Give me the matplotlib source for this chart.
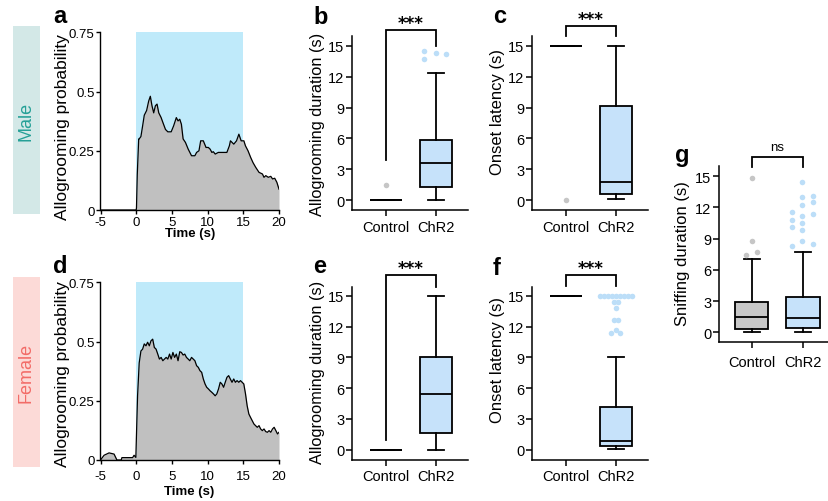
import matplotlib
matplotlib.use('Agg')
import matplotlib.pyplot as plt
from matplotlib.patches import Rectangle

plt.rcParams['font.family'] = ['Liberation Sans', 'DejaVu Sans']

# ---------------- data ----------------
male_t = [-5, 0.0, 0.04, 0.15, 0.35, 0.42, 0.66, 0.9, 1.13, 1.46, 1.75, 1.98, 2.21, 2.45, 2.69,
          2.92, 3.16, 3.49, 3.73, 4.1, 4.43, 4.9, 5.24, 5.62, 5.86, 6.1, 6.33, 6.57, 6.9, 7.28,
          7.75, 8.22, 8.46, 8.79, 9.03, 9.4, 9.78, 10.1, 10.35, 10.6, 10.8, 11.07, 11.5, 12.0,
          12.7, 13.05, 13.2, 13.67, 14.05, 14.38, 14.7, 15.08, 15.3, 15.66, 16.03, 16.36, 16.74,
          17.2, 17.68, 17.9, 18.15, 18.5, 18.85, 19.1, 19.4, 19.7, 20.0]
male_p = [0, 0, 0.01, 0.15, 0.30, 0.30, 0.31, 0.355, 0.40, 0.42, 0.46, 0.48, 0.44, 0.41, 0.44,
          0.447, 0.41, 0.39, 0.37, 0.34, 0.33, 0.33, 0.355, 0.39, 0.376, 0.383, 0.362, 0.30, 0.285, 0.257,
          0.229, 0.229, 0.243, 0.25, 0.292, 0.292, 0.264, 0.264, 0.257, 0.243, 0.246, 0.236, 0.243, 0.243,
          0.243, 0.271, 0.292, 0.278, 0.292, 0.32, 0.292, 0.292, 0.271, 0.25, 0.222, 0.20, 0.18,
          0.159, 0.152, 0.138, 0.145, 0.138, 0.142, 0.131, 0.134, 0.117, 0.088]

female_t = [-5, -4.5, -3.8, -3.1, -2.7, -2.1, -2.0, -0.5, -0.3, -0.05, 0.19, 0.42, 0.66, 0.9, 1.13,
            1.37, 1.6, 1.84, 2.07, 2.31, 2.54, 2.78, 3.02, 3.25, 3.49, 3.73, 3.96, 4.2, 4.43, 4.67,
            4.9, 5.14, 5.38, 5.62, 5.86, 6.1, 6.33, 6.57, 6.8, 7.04, 7.28, 7.51, 7.75, 7.99, 8.22,
            8.46, 8.7, 8.93, 9.17, 9.4, 9.64, 9.87, 10.11, 10.35, 10.58, 10.82, 11.06, 11.29, 11.53,
            11.77, 12.0, 12.24, 12.47, 12.71, 12.95, 13.18, 13.42, 13.66, 13.89, 14.13, 14.37, 14.6,
            14.84, 15.07, 15.31, 15.54, 15.78, 16.01, 16.25, 16.49, 16.72, 16.96, 17.2, 17.43, 17.67,
            17.9, 18.14, 18.38, 18.61, 18.85, 19.09, 19.32, 19.56, 19.79, 20.0]
female_p = [0, 0.02, 0.03, 0.025, 0.0, 0.0, 0.01, 0.01, 0.02, 0.011, 0.27, 0.41, 0.46, 0.468, 0.49,
            0.482, 0.497, 0.482, 0.503, 0.51, 0.475, 0.468, 0.447, 0.426, 0.433, 0.419, 0.426, 0.433, 0.426, 0.447,
            0.426, 0.454, 0.433, 0.447, 0.419, 0.457, 0.454, 0.443, 0.447, 0.433, 0.426, 0.419, 0.433, 0.426, 0.419,
            0.398, 0.391, 0.377, 0.37, 0.342, 0.321, 0.307, 0.30, 0.292, 0.286, 0.279, 0.271, 0.279, 0.30,
            0.328, 0.321, 0.307, 0.328, 0.349, 0.356, 0.342, 0.328, 0.342, 0.328, 0.335, 0.328, 0.335,
            0.328, 0.321, 0.279, 0.229, 0.194, 0.18, 0.166, 0.152, 0.145, 0.138, 0.145, 0.131, 0.124,
            0.131, 0.12, 0.117, 0.124, 0.117, 0.131, 0.138, 0.124, 0.11, 0.117]

stim_window = [0, 15]
groups = ['Control', 'ChR2']

# box statistics: whislo, q1, med, q3, whishi
b_control = [0, 0, 0, 0, 0]
b_chr2 = [0, 1.26, 3.59, 5.85, 12.35]
b_control_fliers = [1.5]
b_chr2_fliers = [14.45, 13.7, 14.3, 14.2]

c_control = [15, 15, 15, 15, 15]
c_chr2 = [0.12, 0.6, 1.74, 9.1, 15]
c_control_fliers = [0.0]

e_control = [0, 0, 0, 0, 0]
e_chr2 = [0, 1.63, 5.4, 9.0, 15]

f_control = [15, 15, 15, 15, 15]
f_chr2 = [0.05, 0.35, 0.85, 4.2, 9.05]
f_chr2_fliers = [15, 15, 15, 15, 15, 15, 15, 15, 15, 14.45, 14.45, 13.86, 12.66, 12.66,
                 11.36, 11.68, 11.36]

g_control = [0, 0.32, 1.44, 2.94, 7.05]
g_chr2 = [0, 0.38, 1.35, 3.37, 7.69]
g_control_fliers = [14.8, 8.75, 7.69, 7.43]
g_chr2_fliers = [14.48, 13.0, 13.08, 12.24, 12.56, 11.54, 11.35, 10.8, 11.15, 10.13, 10.48,
                 9.84, 8.78, 8.33, 8.52]

# jitter offsets for flier display (layout)
b_chr2_jit = [-0.23, -0.23, 0.0, 0.2]
f_chr2_jit = [-0.32, -0.24, -0.16, -0.08, 0.0, 0.08, 0.16, 0.24, 0.32, -0.04, 0.04, 0.0, -0.04, 0.04,
              -0.09, 0.0, 0.08]
g_control_jit = [0.0, 0.0, 0.11, -0.10]
g_chr2_jit = [-0.02, -0.02, 0.19, -0.02, 0.19, -0.22, 0.19, -0.22, -0.02, -0.22, -0.02,
              -0.02, -0.02, -0.22, 0.19]

# ---------------- style ----------------
W, H = 829, 502
fig = plt.figure(figsize=(W / 100, H / 100), dpi=100)

GREY_FILL = '#c0c0c0'
STIM = '#bfeafa'
BOX_BLUE = '#c6e2fa'
FLIER_BLUE = '#bcdef8'
FLIER_GREY = '#c6c6c6'
BOX_GREY = '#c8c8c8'
LW = 1.3


def add_ax(l, t, r, b):
    return fig.add_axes([l / W, 1 - b / H, (r - l) / W, (b - t) / H])


def ftext(px, py, s, **kw):
    return fig.text(px / W, 1 - py / H, s, **kw)


def trace_panel(ax, t, p):
    ax.axvspan(stim_window[0], stim_window[1], ymin=0, ymax=1, color=STIM, lw=0, zorder=0)
    ax.fill_between(t, p, 0, color=GREY_FILL, lw=0, zorder=1)
    ax.plot(t, p, color='black', lw=0.9, zorder=2)
    ax.set_xlim(-5, 20)
    ax.set_ylim(0, 0.75)
    ax.set_xticks([-5, 0, 5, 10, 15, 20])
    ax.set_xticklabels(['-5', '0', '5', '10', '15', '20'])
    ax.set_yticks([0, 0.25, 0.5, 0.75])
    ax.set_yticklabels(['0', '0.25', '0.5', '0.75'])
    for s in ['top', 'right']:
        ax.spines[s].set_visible(False)
    for s in ['left', 'bottom']:
        ax.spines[s].set_linewidth(1.0)
    ax.tick_params(axis='both', length=3, width=1.0, pad=1.2, labelsize=9.5)


def stats(v):
    return dict(whislo=v[0], q1=v[1], med=v[2], q3=v[3], whishi=v[4])


def box_panel(ax, ctrl, chr2, ctrl_face='none', xlim=(-0.68, 1.64), ylim=(-0.97, 15.9)):
    bp = ax.bxp([stats(ctrl), stats(chr2)], positions=[0, 1], widths=0.65, showfliers=False,
                patch_artist=True, capwidths=0.31,
                boxprops=dict(linewidth=LW, edgecolor='black'),
                medianprops=dict(color='black', linewidth=LW),
                whiskerprops=dict(color='black', linewidth=LW),
                capprops=dict(color='black', linewidth=LW))
    bp['boxes'][0].set_facecolor(ctrl_face)
    bp['boxes'][1].set_facecolor(BOX_BLUE)
    ax.set_xlim(*xlim)
    ax.set_ylim(*ylim)
    ax.set_xticks([0, 1])
    ax.set_xticklabels(groups)
    ax.set_yticks([0, 3, 6, 9, 12, 15])
    for s in ['top', 'right']:
        ax.spines[s].set_visible(False)
    for s in ['left', 'bottom']:
        ax.spines[s].set_linewidth(1.1)
    ax.tick_params(axis='both', length=4, width=1.1, labelsize=10.5)
    ax.tick_params(axis='y', pad=1.5)
    ax.tick_params(axis='x', pad=3)


def fliers(ax, pos, vals, jit, color):
    if len(vals) == 0:
        return
    xs = [pos + j for j in jit]
    ax.scatter(xs, vals, s=16, color=color, lw=0, zorder=3, clip_on=False)


def bracket(ax, top, left_bottom, right_bottom, label, stars=True):
    ax.plot([0, 0, 1, 1], [left_bottom, top, top, right_bottom], color='black', lw=LW,
            clip_on=False, solid_joinstyle='miter')
    if stars:
        ax.text(0.5, top + 0.18, label, ha='center', va='baseline', fontsize=12,
                fontweight='bold', family='DejaVu Sans', clip_on=False)
    else:
        ax.text(0.5, top + 0.7, label, ha='center', va='baseline', fontsize=9.5, clip_on=False)


# ---------------- side labels ----------------
fig.patches.append(Rectangle((13 / W, 1 - 215 / H), 27 / W, 188 / H, transform=fig.transFigure,
                             facecolor='#d3e8e7', edgecolor='none'))
fig.patches.append(Rectangle((13 / W, 1 - 468 / H), 27 / W, 190 / H, transform=fig.transFigure,
                             facecolor='#fcdad7', edgecolor='none'))
ftext(26.5, 121, 'Male', rotation=90, ha='center', va='center', fontsize=13, color='#25a097')
ftext(26.5, 373, 'Female', rotation=90, ha='center', va='center', fontsize=13, color='#f26c68')

# ---------------- panels a, d ----------------
ax_a = add_ax(100.5, 33.3, 279, 211)
trace_panel(ax_a, male_t, male_p)
ax_d = add_ax(100.5, 283.3, 279, 461)
trace_panel(ax_d, female_t, female_p)
ax_d.tick_params(axis='x', pad=4)

ftext(62, 127, 'Allogrooming probability', rotation=90, ha='center', va='center', fontsize=12.5)
ftext(62, 374, 'Allogrooming probability', rotation=90, ha='center', va='center', fontsize=12.5)
ftext(190, 234, 'Time (s)', ha='center', va='center', fontsize=9.5, fontweight='bold')
ftext(189, 492, 'Time (s)', ha='center', va='center', fontsize=9.5, fontweight='bold')

# ---------------- panel b ----------------
ax_b = add_ax(352, 37.4, 468, 211.3)
box_panel(ax_b, b_control, b_chr2)
fliers(ax_b, 0, b_control_fliers, [0.0], FLIER_GREY)
fliers(ax_b, 1, b_chr2_fliers, b_chr2_jit, FLIER_BLUE)
bracket(ax_b, 16.5, 3.9, 15.0, '***')
ftext(318, 124, 'Allogrooming duration (s)', rotation=90, ha='center', va='center', fontsize=11.8)

# ---------------- panel c ----------------
ax_c = add_ax(532, 37.4, 648, 211.3)
box_panel(ax_c, c_control, c_chr2)
fliers(ax_c, 0, c_control_fliers, [0.0], FLIER_GREY)
bracket(ax_c, 16.9, 15.9, 15.9, '***')
ftext(498, 112, 'Onset latency (s)', rotation=90, ha='center', va='center', fontsize=12)

# ---------------- panel e ----------------
ax_e = add_ax(352, 287.7, 468, 460.7)
box_panel(ax_e, e_control, e_chr2)
bracket(ax_e, 17.05, 0.98, 15.9, '***')
ftext(318, 372, 'Allogrooming duration (s)', rotation=90, ha='center', va='center', fontsize=11.8)

# ---------------- panel f ----------------
ax_f = add_ax(532, 287.7, 648, 460.7)
box_panel(ax_f, f_control, f_chr2)
fliers(ax_f, 1, f_chr2_fliers, f_chr2_jit, FLIER_BLUE)
bracket(ax_f, 17.04, 15.97, 15.97, '***')
ftext(498, 360, 'Onset latency (s)', rotation=90, ha='center', va='center', fontsize=12)

# ---------------- panel g ----------------
ax_g = add_ax(719, 166.7, 829, 343.3)
box_panel(ax_g, g_control, g_chr2, ctrl_face=BOX_GREY, xlim=(-0.63, 1.5), ylim=(-0.96, 16.0))
ax_g.tick_params(axis='x', pad=5)
fliers(ax_g, 0, g_control_fliers, g_control_jit, FLIER_GREY)
fliers(ax_g, 1, g_chr2_fliers, g_chr2_jit, FLIER_BLUE)
bracket(ax_g, 16.8, 15.87, 15.87, 'ns', stars=False)
ftext(683, 254, 'Sniffing duration (s)', rotation=90, ha='center', va='center', fontsize=12)

# ---------------- panel letters ----------------
for lab, x, y in [('a', 53, 23), ('b', 313, 24), ('c', 493, 23), ('d', 53, 273),
                  ('e', 313, 273), ('f', 493, 275), ('g', 675, 161.7)]:
    ftext(x, y, lab, ha='left', va='baseline', fontsize=17, fontweight='bold')

fig.savefig('out.png', dpi=100)
